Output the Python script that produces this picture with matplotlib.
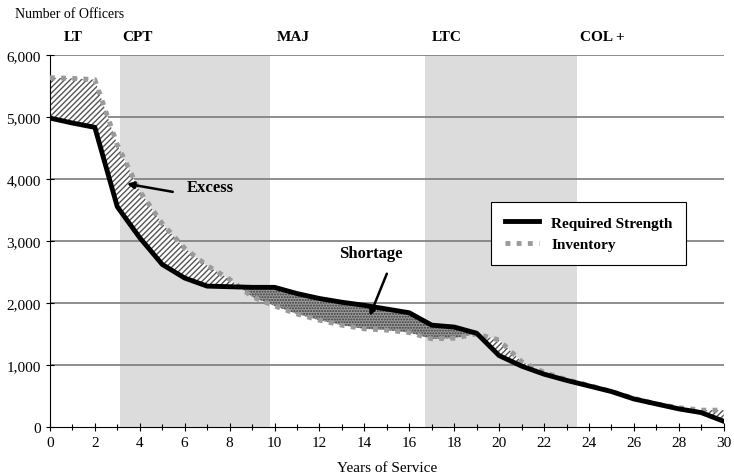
import matplotlib
matplotlib.use("Agg")
import matplotlib.pyplot as plt
import numpy as np

plt.rcParams['font.family'] = ['Liberation Serif', 'DejaVu Serif']

years = np.arange(0, 31)
required = [4980, 4900, 4830, 3550, 3050, 2620, 2400, 2270, 2260, 2250,
            2250, 2150, 2070, 2010, 1960, 1900, 1840, 1640, 1610, 1510,
            1150, 980, 850, 750, 660, 570, 450, 370, 290, 230, 90]
inventory = [5630, 5620, 5600, 4550, 3800, 3280, 2880, 2600, 2380, 2100,
             1950, 1820, 1720, 1640, 1580, 1560, 1520, 1420, 1430, 1500,
             1400, 1050, 880, 760, 670, 570, 460, 370, 310, 270, 270]
rank_labels = ["LT", "CPT", "MAJ", "LTC", "COL +"]
rank_x = [0.62, 3.2, 10.1, 17.0, 23.6]
bands = [(3.1, 9.8), (16.7, 23.45)]

req = np.array(required)
inv = np.array(inventory)

fig = plt.figure(figsize=(7.34, 4.77), dpi=100)
ax = fig.add_axes([0.068, 0.103, 0.918, 0.78])

for b0, b1 in bands:
    ax.axvspan(b0, b1, color='#dcdcdc', lw=0, zorder=0)

for yv in range(1000, 7000, 1000):
    ax.axhline(yv, color='#7a7a7a', lw=1.2, zorder=1)

ax.fill_between(years, inv, req, where=inv >= req, interpolate=True,
                facecolor='white', edgecolor='#555555', hatch='//////',
                linewidth=0, zorder=2)
ax.fill_between(years, inv, req, where=inv < req, interpolate=True,
                facecolor='#9c9c9c', edgecolor='#3a3a3a', hatch='......',
                linewidth=0, zorder=2)

ax.plot(years, inv, color='#9a9a9a', lw=3.5, linestyle=(0, (1, 1.3)),
        label='Inventory', zorder=3)
ax.plot(years, req, color='black', lw=3.5, label='Required Strength', zorder=4)

ax.set_xlim(0, 30)
ax.set_ylim(0, 6000)
ax.set_xticks(range(0, 31, 2))
ax.set_xticks(range(0, 31), minor=True)
ax.set_yticks(range(0, 7000, 1000))
ax.set_yticklabels(['0', '1,000', '2,000', '3,000', '4,000', '5,000', '6,000'])
ax.tick_params(axis='both', which='both', direction='inout', length=6,
               width=0.8, labelsize=11)
ax.tick_params(axis='x', which='minor', length=5)
for s in ['top', 'right']:
    ax.spines[s].set_visible(False)

ax.set_xlabel('Years of Service', fontsize=11, labelpad=9)
fig.text(0.02, 0.97, 'Number of Officers', fontsize=10, va='center')

for lab, xv in zip(rank_labels, rank_x):
    ax.text(xv, 6290, lab, fontsize=11, fontweight='bold', ha='left',
            va='center', clip_on=False)

ax.text(6.1, 3870, 'Excess', fontsize=12, fontweight='bold',
        va='center', ha='left', zorder=6)
ax.annotate('', xy=(3.43, 3920), xytext=(5.47, 3790),
            arrowprops=dict(arrowstyle='-|>', color='black', lw=1.8,
                            shrinkA=0, shrinkB=0, mutation_scale=10),
            zorder=6)
ax.text(14.3, 2800, 'Shortage', fontsize=12, fontweight='bold',
        va='center', ha='center', zorder=6)
ax.annotate('', xy=(14.24, 1790), xytext=(15.0, 2470),
            arrowprops=dict(arrowstyle='-|>', color='black', lw=1.8,
                            shrinkA=0, shrinkB=0, mutation_scale=8),
            zorder=6)

h, l = ax.get_legend_handles_labels()
leg = ax.legend(h[::-1], l[::-1], loc='upper left',
                bbox_to_anchor=(0.644, 0.624), fancybox=False,
                edgecolor='black', framealpha=1, borderpad=0.9,
                handlelength=2.2, prop={'weight': 'bold', 'size': 11})
leg.get_frame().set_linewidth(0.8)
leg.set_zorder(7)

fig.savefig('out.png', dpi=100)
